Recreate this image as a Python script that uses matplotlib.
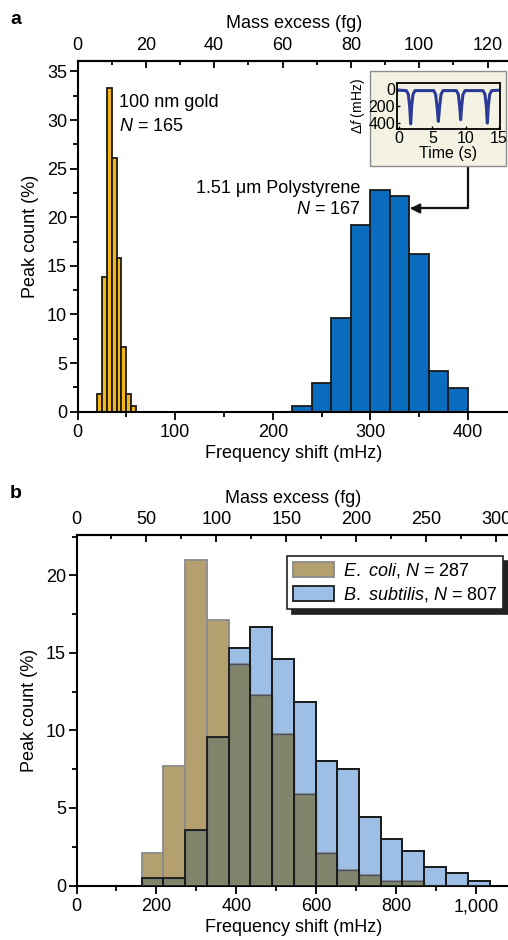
import numpy as np
import matplotlib
matplotlib.use('Agg')
import matplotlib.pyplot as plt
from matplotlib.patches import Patch, Rectangle
from matplotlib.ticker import MultipleLocator, FuncFormatter

plt.rcParams['font.family'] = ['Liberation Sans', 'DejaVu Sans']
plt.rcParams['mathtext.fontset'] = 'custom'
plt.rcParams['mathtext.rm'] = 'Liberation Sans'
plt.rcParams['mathtext.it'] = 'Liberation Sans:italic'
plt.rcParams['font.size'] = 13

# ---- panel a: histograms (percent of peaks per bin)
gold_edges = [20, 25, 30, 35, 40, 45, 50, 55, 60]
gold_pct = [1.8, 13.9, 33.3, 26.1, 15.8, 6.7, 1.8, 0.6]
ps_edges = [220, 240, 260, 280, 300, 320, 340, 360, 380, 400]
ps_pct = [0.6, 3.0, 9.6, 19.2, 22.8, 22.2, 16.2, 4.2, 2.4]

# inset time trace (s, mHz)
trace_t = [-0.2, 1.1, 1.4, 1.6, 1.75, 1.9, 2.1, 2.4,
           5.2, 5.5, 5.7, 5.9, 6.1, 6.3, 6.6,
           8.6, 8.9, 9.1, 9.25, 9.4, 9.6, 9.9,
           12.6, 12.9, 13.1, 13.25, 13.4, 13.6, 13.9, 15.2]
trace_df = [10, 15, 60, 200, 410, 200, 60, 15,
            15, 60, 200, 380, 200, 60, 15,
            15, 60, 200, 360, 200, 60, 15,
            15, 60, 200, 400, 200, 60, 15, 10]

# ---- panel b: bacteria
bact_edges = [163, 217, 272, 326, 381, 435, 489, 544, 598, 652, 707,
              761, 815, 870, 924, 979, 1033]
ecoli_pct = [2.1, 7.7, 21.0, 17.1, 14.3, 12.3, 9.8, 5.9, 2.1, 1.0, 0.7,
             0.3, 0.3, 0, 0, 0]
bsub_pct = [0.5, 0.5, 3.6, 9.6, 15.3, 16.7, 14.6, 11.8, 8.0, 7.5, 4.4,
            3.0, 2.2, 1.2, 0.8, 0.3]

MHZ_PER_FG = 3.5
FS = 13
W, H = 508, 940
fig = plt.figure(figsize=(W / 100, H / 100), dpi=100)


def px_axes(l, t, r, b):
    return fig.add_axes([l / W, 1 - b / H, (r - l) / W, (b - t) / H])


def style(ax):
    for s in ['left', 'bottom', 'top']:
        ax.spines[s].set_linewidth(1.5)
    ax.spines['right'].set_visible(False)
    ax.tick_params(which='both', direction='out', width=1.3, labelsize=FS)
    ax.tick_params(which='major', length=6, pad=3)
    ax.tick_params(which='minor', length=3.5)
    ax.tick_params(axis='y', pad=1.5)


def top_axis(ax, major, minor, top):
    sec = ax.secondary_xaxis('top', functions=(lambda f: f / MHZ_PER_FG,
                                               lambda m: m * MHZ_PER_FG))
    sec.set_xticks(np.arange(0, top + 1, major))
    sec.xaxis.set_minor_locator(MultipleLocator(minor))
    sec.tick_params(which='both', direction='in', width=1.3, labelsize=FS, pad=5)
    sec.tick_params(which='major', length=5)
    sec.tick_params(which='minor', length=3)
    sec.spines['top'].set_linewidth(1.5)
    sec.set_xlabel('Mass excess (fg)', fontsize=FS, labelpad=6)
    return sec


# ================= panel a
ax = px_axes(77.5, 60.7, 510, 411.7)
ge = np.array(gold_edges)
ax.bar(ge[:-1], gold_pct, np.diff(ge), align='edge', color='#f3b51c',
       edgecolor='#1a1a1a', lw=1.3, zorder=2)
pe = np.array(ps_edges)
ax.bar(pe[:-1], ps_pct, np.diff(pe), align='edge', color='#0a6cbe',
       edgecolor='#1a1a1a', lw=1.3, zorder=2)
ax.set_xlim(0, 443)
ax.set_ylim(0, 36.1)
ax.set_xticks([0, 100, 200, 300, 400])
ax.xaxis.set_minor_locator(MultipleLocator(50))
ax.set_yticks(np.arange(0, 36, 5))
ax.yaxis.set_minor_locator(MultipleLocator(2.5))
style(ax)
ax.set_xlabel('Frequency shift (mHz)', fontsize=FS, labelpad=3)
ax.set_ylabel('Peak count (%)', fontsize=FS, labelpad=6)
top_axis(ax, 20, 10, 120)

ax.text(43, 31.8, '100 nm gold', fontsize=FS, va='center')
ax.text(43, 29.3, '$N$ = 165', fontsize=FS, va='center')
ax.text(290, 23.0, '1.51 \u03bcm Polystyrene', fontsize=FS, va='center', ha='right')
ax.text(290, 20.8, '$N$ = 167', fontsize=FS, va='center', ha='right')
ax.annotate('', xy=(340.5, 20.9), xytext=(400.4, 25.4),
            arrowprops=dict(arrowstyle='-|>', color='#111111', lw=1.6,
                            mutation_scale=14, shrinkA=0, shrinkB=0,
                            connectionstyle='angle,angleA=90,angleB=0,rad=0'),
            zorder=6)

# inset
box = Rectangle((370 / W, 1 - 166 / H), 136 / W, 95 / H, transform=fig.transFigure,
                facecolor='#f4f2e2', edgecolor='#8c8c8c', lw=1.0, zorder=2)
fig.patches.append(box)
ins = px_axes(397, 83, 500, 129)
ins.set_zorder(3)
ins.set_facecolor('#f4f2e2')
ins.plot(trace_t, trace_df, color='#2d3b98', lw=2.2)
ins.set_xlim(-0.3, 15.15)
ins.set_ylim(470, -75)
ins.set_xticks([0, 5, 10, 15])
ins.set_yticks([0, 200, 400])
for s in ins.spines.values():
    s.set_linewidth(1.3)
ins.tick_params(direction='in', length=2.5, width=1, labelsize=11.5, pad=1.5)
ins.set_xlabel('Time (s)', fontsize=11.5, labelpad=0)
ins.set_ylabel(r'$\it{\Delta f}$ (mHz)', fontsize=10, labelpad=1)

fig.text(10 / W, 1 - 20 / H, 'a', fontsize=14, weight='bold', va='center')

# ================= panel b
axb = px_axes(76.5, 535, 510, 885.5)
be = np.array(bact_edges)
left, width = be[:-1], np.diff(be)
tan, blue, olive = '#b4a06e', '#9dbfe5', '#80846a'
axb.bar(left, bsub_pct, width, align='edge', color=blue, edgecolor='#1c1c1c',
        lw=1.3, zorder=2)
axb.bar(left, ecoli_pct, width, align='edge', color=tan, edgecolor='#8a8a8a',
        lw=1.3, zorder=3)
overlap = np.minimum(ecoli_pct, bsub_pct)
axb.bar(left, overlap, width, align='edge', color=olive, edgecolor='#47516a',
        lw=0.9, zorder=4)
axb.bar(left, bsub_pct, width, align='edge', fill=False, edgecolor='#1c1c1c',
        lw=1.3, zorder=5)
axb.set_xlim(0, 1084)
axb.set_ylim(0, 22.6)
axb.set_xticks([0, 200, 400, 600, 800, 1000])
axb.xaxis.set_major_formatter(FuncFormatter(lambda v, p: f'{v:,.0f}'))
axb.xaxis.set_minor_locator(MultipleLocator(100))
axb.set_yticks([0, 5, 10, 15, 20])
axb.yaxis.set_minor_locator(MultipleLocator(2.5))
style(axb)
axb.set_xlabel('Frequency shift (mHz)', fontsize=FS, labelpad=3)
axb.set_ylabel('Peak count (%)', fontsize=FS, labelpad=6)
top_axis(axb, 50, 25, 300)

handles = [Patch(facecolor=tan, edgecolor='#8a8a8a', lw=1.3),
           Patch(facecolor=blue, edgecolor='#1c1c1c', lw=1.3)]
labels = [r'$\it{E.}$ $\it{coli}$, $\it{N}$ = 287',
          r'$\it{B.}$ $\it{subtilis}$, $\it{N}$ = 807']
leg = axb.legend(handles, labels, loc='upper right', bbox_to_anchor=(0.984, 0.94),
                 frameon=True, fancybox=False, edgecolor='#222222', framealpha=1,
                 shadow={'ox': 3.5, 'oy': -3.5, 'color': '#222222', 'alpha': 1},
                 handlelength=2.3, handleheight=0.9, borderpad=0.3,
                 labelspacing=0.25, handletextpad=0.5, borderaxespad=0, fontsize=FS)
leg.get_frame().set_linewidth(1.2)
leg.set_zorder(10)

fig.text(10 / W, 1 - 493 / H, 'b', fontsize=14, weight='bold', va='center')

fig.savefig('out.png', dpi=100)
